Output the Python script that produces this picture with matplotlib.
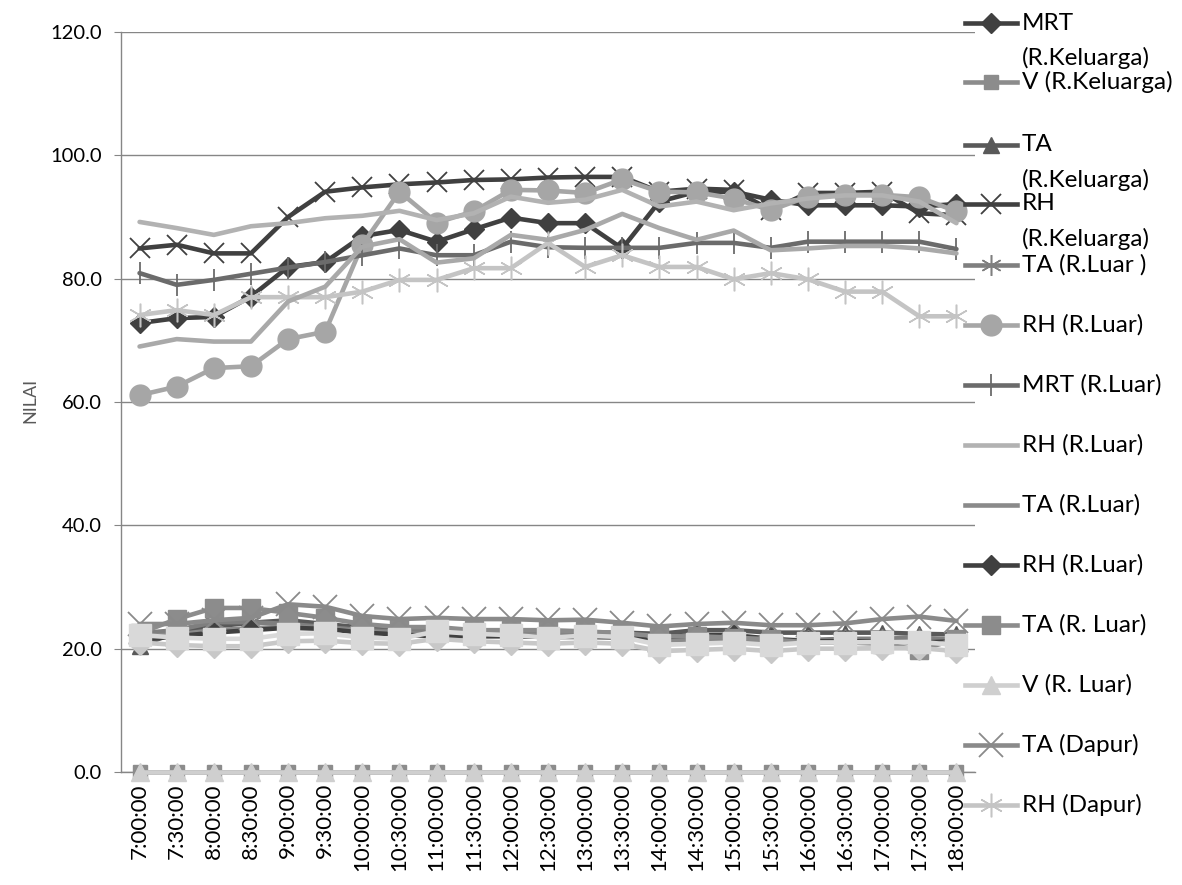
import matplotlib
matplotlib.use("Agg")
import matplotlib.pyplot as plt
from matplotlib.lines import Line2D

plt.rcParams['font.family'] = ['Lato', 'DejaVu Sans']

times = ["7:00:00", "7:30:00", "8:00:00", "8:30:00", "9:00:00", "9:30:00",
         "10:00:00", "10:30:00", "11:00:00", "11:30:00", "12:00:00", "12:30:00",
         "13:00:00", "13:30:00", "14:00:00", "14:30:00", "15:00:00", "15:30:00",
         "16:00:00", "16:30:00", "17:00:00", "17:30:00", "18:00:00"]

mrt_keluarga = [72.8, 73.6, 73.8, 77.1, 81.9, 82.7, 86.9, 87.9, 86.0, 88.0, 89.9, 89.0,
                89.0, 84.9, 92.5, 94.1, 94.1, 92.8, 91.9, 91.9, 91.9, 91.7, 92.1]
v_keluarga = [0.0, 0.0, 0.0, 0.0, 0.0, 0.0, 0.0, 0.0, 0.0, 0.0, 0.0, 0.0,
              0.0, 0.0, 0.0, 0.0, 0.0, 0.0, 0.0, 0.0, 0.0, 0.0, 0.0]
ta_keluarga = [20.5, 22.6, 23.6, 24.2, 24.6, 24.0, 23.4, 23.0, 22.9, 22.8, 22.8, 22.6,
               22.6, 22.6, 22.4, 23.0, 23.0, 22.6, 22.6, 22.6, 22.6, 22.4, 22.3]
rh_keluarga = [84.9, 85.5, 84.1, 84.1, 90.0, 94.1, 94.8, 95.3, 95.6, 96.0, 96.1, 96.4,
               96.5, 96.5, 94.1, 94.6, 94.4, 91.1, 93.9, 93.9, 94.1, 90.6, 90.3]
ta_luar_a = [22.5, 23.0, 24.3, 24.3, 24.0, 23.5, 23.0, 22.8, 23.0, 22.8, 22.8, 22.6,
             22.6, 22.3, 21.6, 21.9, 21.9, 21.4, 21.4, 21.6, 21.6, 21.8, 21.4]
rh_luar_a = [61.1, 62.5, 65.5, 65.8, 70.2, 71.4, 85.5, 94.1, 89.1, 90.9, 94.4, 94.3,
             93.9, 96.1, 94.1, 94.0, 93.0, 91.1, 93.3, 93.6, 93.6, 93.2, 90.9]
mrt_luar = [80.9, 79.0, 79.8, 80.8, 81.8, 82.7, 83.8, 84.9, 83.8, 83.8, 86.0, 85.1,
            85.0, 85.0, 85.0, 85.8, 85.8, 85.0, 86.0, 86.0, 86.0, 86.0, 84.8]
rh_luar_b = [89.2, 88.2, 87.1, 88.5, 89.0, 89.8, 90.2, 91.0, 89.5, 90.6, 93.3, 92.3,
             92.8, 94.4, 91.7, 92.5, 91.1, 92.2, 93.0, 93.5, 93.5, 92.5, 89.0]
ta_luar_b = [22.0, 22.3, 23.0, 23.3, 23.6, 23.3, 22.8, 22.5, 22.3, 22.3, 22.3, 22.1,
             22.1, 22.0, 21.3, 21.5, 21.5, 21.2, 21.0, 21.0, 21.0, 21.2, 21.0]
rh_luar_c = [21.5, 22.0, 22.6, 23.0, 23.4, 23.2, 22.6, 22.3, 22.0, 22.0, 22.0, 21.9,
             21.9, 21.8, 21.8, 22.2, 22.2, 21.6, 21.2, 21.2, 21.2, 21.0, 21.2]
ta_luar_c = [22.5, 24.8, 26.6, 26.6, 25.8, 25.0, 24.0, 23.5, 23.5, 23.0, 23.0, 23.0,
             22.8, 22.5, 22.0, 22.0, 21.8, 21.5, 21.0, 21.0, 20.8, 19.8, 21.5]
v_luar = [0.0, 0.0, 0.0, 0.0, 0.0, 0.0, 0.0, 0.0, 0.0, 0.0, 0.0, 0.0,
          0.0, 0.0, 0.0, 0.0, 0.0, 0.0, 0.0, 0.0, 0.0, 0.0, 0.0]
ta_dapur = [24.0, 24.0, 24.6, 25.0, 27.2, 26.8, 25.3, 24.8, 25.0, 24.8, 24.8, 24.6,
            24.7, 24.2, 23.6, 24.0, 24.2, 23.8, 23.8, 24.1, 24.8, 25.2, 24.5]
rh_dapur = [74.1, 74.9, 74.1, 77.0, 77.0, 77.0, 77.9, 79.8, 79.8, 81.7, 81.7, 85.8,
            81.9, 83.8, 81.9, 81.9, 79.9, 80.9, 79.9, 77.9, 77.9, 73.9, 73.9]

# series without a legend entry
rh_extra = [69.0, 70.2, 69.8, 69.8, 76.3, 78.7, 85.2, 86.4, 82.6, 83.3, 87.1, 86.3,
            87.9, 90.5, 88.2, 86.3, 87.8, 84.6, 84.9, 85.3, 85.3, 84.9, 84.1]
low_extra_a = [21.0, 20.6, 20.4, 20.4, 21.2, 21.3, 20.9, 20.8, 21.6, 21.2, 21.0, 20.8,
               21.0, 20.8, 19.6, 19.8, 20.0, 19.6, 20.0, 20.0, 20.1, 20.1, 19.6]
low_extra_b = [22.2, 21.8, 21.6, 21.6, 22.4, 22.5, 21.8, 21.6, 22.8, 22.4, 22.2, 21.8,
               22.1, 21.9, 20.6, 20.8, 21.0, 20.6, 21.0, 21.0, 21.1, 21.1, 20.6]

W, H = 1182, 885
fig = plt.figure(figsize=(W / 100, H / 100), dpi=100)
ax = fig.add_axes([121 / W, 1 - 772 / H, (975 - 121) / W, (772 - 32) / H])

x = list(range(len(times)))
LW = 3.3

# (label, values, colour, marker, marker size, marker edge width, show in legend)
series = [
    ("MRT\n(R.Keluarga)", mrt_keluarga, "#404040", "D", 10, 1.0, True),
    ("V (R.Keluarga)", v_keluarga, "#8c8c8c", "s", 10, 1.0, True),
    ("TA\n(R.Keluarga)", ta_keluarga, "#595959", "^", 12, 1.0, True),
    ("RH\n(R.Keluarga)", rh_keluarga, "#404040", "x", 15, 1.3, True),
    ("TA (R.Luar )", ta_luar_a, "#7f7f7f", (6, 2, 0), 15, 1.1, True),
    ("RH (R.Luar)", rh_luar_a, "#a6a6a6", "o", 15, 1.0, True),
    ("MRT (R.Luar)", mrt_luar, "#6b6b6b", "|", 16, 1.3, True),
    ("RH (R.Luar)", rh_luar_b, "#b2b2b2", None, 0, 1.0, True),
    ("TA (R.Luar)", ta_luar_b, "#8a8a8a", None, 0, 1.0, True),
    ("RH (R.Luar)", rh_luar_c, "#404040", "D", 10, 1.0, True),
    ("TA (R. Luar)", ta_luar_c, "#8c8c8c", "s", 13, 1.0, True),
    ("V (R. Luar)", v_luar, "#cfcfcf", "^", 13, 1.0, True),
    ("TA (Dapur)", ta_dapur, "#8a8a8a", "x", 17, 1.3, True),
    ("RH (Dapur)", rh_dapur, "#c4c4c4", (6, 2, 0), 17, 1.1, True),
    ("_extra1", rh_extra, "#a9a9a9", None, 0, 1.0, False),
    ("_extra2", low_extra_a, "#c8c8c8", "D", 12, 1.0, False),
    ("_extra3", low_extra_b, "#d9d9d9", "s", 16, 1.0, False),
]

for i, (lab, vals, col, mk, ms, mew, _) in enumerate(series):
    ax.plot(x, vals, color=col, lw=LW, marker=mk, ms=ms, mec=col, mfc=col,
            mew=mew, solid_capstyle="round", solid_joinstyle="round",
            zorder=3 + i * 0.01, clip_on=False)

ax.set_xlim(-0.5, len(times) - 0.5)
ax.set_ylim(0, 120)
ax.set_yticks([0, 20, 40, 60, 80, 100, 120])
ax.set_yticklabels([f"{v:.1f}" for v in [0, 20, 40, 60, 80, 100, 120]])
ax.set_xticks(x)
ax.set_xticklabels(times, rotation=90)

axis_col = "#868686"
ax.grid(axis="y", color=axis_col, lw=1.0)
ax.set_axisbelow(True)
for side in ("top", "right"):
    ax.spines[side].set_visible(False)
for side in ("left", "bottom"):
    ax.spines[side].set_color(axis_col)
    ax.spines[side].set_linewidth(1.0)
ax.tick_params(axis="y", length=5, color=axis_col, labelsize=14.5, pad=9)
ax.tick_params(axis="x", length=0, labelsize=16, pad=8)

fig.text(30 / W, 1 - 400 / H, "NILAI", rotation=90, ha="center", va="center",
         fontsize=13, color="#595959")

# legend on the right
handle_y = [23, 82, 145, 204, 265, 325, 385, 445, 505, 565, 625, 685, 745, 805]
legend_items = [s for s in series if s[6]]
for (lab, vals, col, mk, ms, mew, _), yy in zip(legend_items, handle_y):
    fy = 1 - yy / H
    fig.add_artist(Line2D([965 / W, 1017 / W], [fy, fy], color=col, lw=LW,
                          transform=fig.transFigure))
    if mk is not None:
        fig.add_artist(Line2D([991 / W], [fy], color=col, marker=mk, ms=ms,
                              mec=col, mfc=col, mew=mew, lw=0,
                              transform=fig.transFigure))
    for k, line in enumerate(lab.split("\n")):
        fig.text(1022 / W, 1 - (yy + k * 35) / H, line, ha="left", va="center",
                 fontsize=17.5, color="#000000")

fig.savefig("out.png", dpi=100)
